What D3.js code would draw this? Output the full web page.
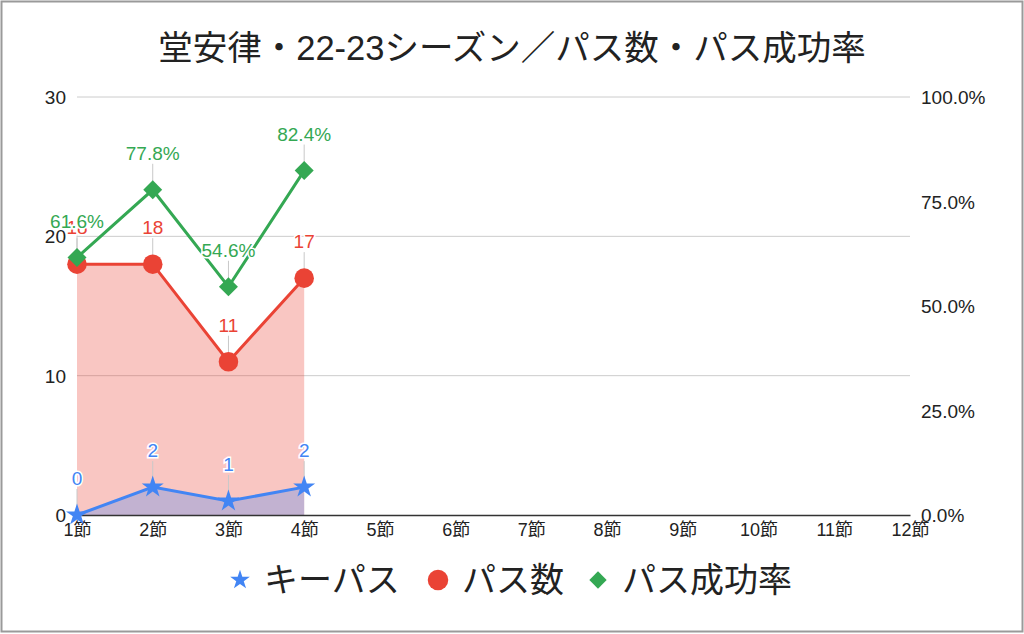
<!DOCTYPE html>
<html>
<head>
<meta charset="utf-8">
<script src="https://cdn.jsdelivr.net/npm/d3@7"></script>
<style>
 body { margin: 0; background: #fff; }
 text { font-family: "Liberation Sans", "Noto Sans CJK JP", sans-serif; }
</style>
</head>
<body>
<div id="chart"></div>
<script>
// data
var rounds = ["1節", "2節", "3節", "4節", "5節", "6節", "7節", "8節", "9節", "10節", "11節", "12節"];
var keyPass = [0, 2, 1, 2];
var passes = [18, 18, 11, 17];
var passRate = [0.616, 0.778, 0.546, 0.824];
var leftTicks = [0, 10, 20, 30];
var rightTicks = [0, 0.25, 0.5, 0.75, 1];
var seriesNames = ["キーパス", "パス数", "パス成功率"];

var blue = "#4285F4", red = "#EA4335", green = "#34A853";
var fontF = "\"Liberation Sans\", \"Noto Sans CJK JP\", sans-serif";

var w = 1024, h = 634;
var svg = d3.select("#chart").append("svg").attr("width", w).attr("height", h);

svg.append("rect").attr("x", 1.5).attr("y", 1.5).attr("width", w - 3).attr("height", h - 4)
 .attr("fill", "#fff").attr("stroke", "#9a9a9a").attr("stroke-width", 2);

var x = d3.scalePoint().domain(rounds).range([77, 910]);
var yL = d3.scaleLinear().domain([0, 30]).range([515, 97]);
var yR = d3.scaleLinear().domain([0, 1]).range([515, 97]);

// title
svg.append("text").attr("x", 512).attr("y", 60).attr("text-anchor", "middle")
 .attr("font-size", 34.5).attr("fill", "#222")
 .text("堂安律・22-23シーズン／パス数・パス成功率");

// gridlines
svg.selectAll(".grid").data(leftTicks.slice(1)).enter().append("line")
 .attr("x1", 77).attr("x2", 910)
 .attr("y1", function(d) { return yL(d); }).attr("y2", function(d) { return yL(d); })
 .attr("stroke", "#cccccc").attr("stroke-width", 1);

// left axis labels
svg.selectAll(".lt").data(leftTicks).enter().append("text")
 .attr("x", 66).attr("y", function(d) { return yL(d) + 7; })
 .attr("text-anchor", "end").attr("font-size", 19).attr("fill", "#222")
 .text(function(d) { return d; });

// right axis labels
svg.selectAll(".rt").data(rightTicks).enter().append("text")
 .attr("x", 921).attr("y", function(d) { return yR(d) + 7; })
 .attr("font-size", 19).attr("fill", "#222")
 .text(function(d) { return d3.format(".1%")(d); });

// areas
var idx = d3.range(passes.length);
var areaP = d3.area().x(function(i) { return x(rounds[i]); }).y0(yL(0)).y1(function(i) { return yL(passes[i]); });
var areaK = d3.area().x(function(i) { return x(rounds[i]); }).y0(yL(0)).y1(function(i) { return yL(keyPass[i]); });
svg.append("path").attr("d", areaP(idx)).attr("fill", red).attr("fill-opacity", 0.3);
svg.append("path").attr("d", areaK(idx)).attr("fill", blue).attr("fill-opacity", 0.3);

// x axis
var xAxis = svg.append("g").attr("transform", "translate(0," + yL(0) + ")")
 .call(d3.axisBottom(x).tickSize(0).tickPadding(8));
xAxis.select(".domain").attr("stroke", "#333").attr("stroke-width", 1.5);
xAxis.selectAll("text").attr("font-size", 18).attr("fill", "#222")
 .style("font-family", fontF);

// leader lines from labels to points
function leaders(vals, yScale) {
 svg.selectAll(null).data(idx).enter().append("line")
 .attr("x1", function(i) { return x(rounds[i]); }).attr("x2", function(i) { return x(rounds[i]); })
 .attr("y1", function(i) { return yScale(vals[i]) - 26; })
 .attr("y2", function(i) { return yScale(vals[i]); })
 .attr("stroke", "#c8c8c8").attr("stroke-width", 1);
}
leaders(keyPass, yL);
leaders(passes, yL);
leaders(passRate, yR);

// lines
var line = function(vals, yScale) {
 return d3.line().x(function(i) { return x(rounds[i]); }).y(function(i) { return yScale(vals[i]); })(idx);
};
svg.append("path").attr("d", line(keyPass, yL)).attr("fill", "none").attr("stroke", blue).attr("stroke-width", 3);
svg.append("path").attr("d", line(passes, yL)).attr("fill", "none").attr("stroke", red).attr("stroke-width", 3);
svg.append("path").attr("d", line(passRate, yR)).attr("fill", "none").attr("stroke", green).attr("stroke-width", 3);

// markers
var star = d3.symbol().type(d3.symbolStar).size(150);
var circle = d3.symbol().type(d3.symbolCircle).size(300);
var diamond = d3.symbol().type(d3.symbolSquare).size(180);
svg.selectAll(null).data(idx).enter().append("path").attr("d", star)
 .attr("transform", function(i) { return "translate(" + x(rounds[i]) + "," + yL(keyPass[i]) + ")"; })
 .attr("fill", blue);
svg.selectAll(null).data(idx).enter().append("path").attr("d", circle)
 .attr("transform", function(i) { return "translate(" + x(rounds[i]) + "," + yL(passes[i]) + ")"; })
 .attr("fill", red);
svg.selectAll(null).data(idx).enter().append("path").attr("d", diamond)
 .attr("transform", function(i) { return "translate(" + x(rounds[i]) + "," + yR(passRate[i]) + ") rotate(45)"; })
 .attr("fill", green);

// data labels with white halo
function labels(vals, yScale, color, fmt) {
 var g = svg.append("g");
 g.selectAll(null).data(idx).enter().append("text")
 .attr("x", function(i) { return x(rounds[i]); })
 .attr("y", function(i) { return yScale(vals[i]) - 30; })
 .attr("text-anchor", "middle").attr("font-size", 19)
 .attr("fill", color).attr("stroke", "#fff").attr("stroke-width", 3).attr("paint-order", "stroke")
 .text(function(i) { return fmt(vals[i]); });
}
labels(keyPass, yL, blue, function(d) { return d; });
labels(passes, yL, red, function(d) { return d; });
labels(passRate, yR, green, d3.format(".1%"));

// legend
var legend = [
 { name: seriesNames[0], color: blue, sym: d3.symbol().type(d3.symbolStar).size(120), rot: 0, x: 240 },
 { name: seriesNames[1], color: red, sym: d3.symbol().type(d3.symbolCircle).size(330), rot: 0, x: 438 },
 { name: seriesNames[2], color: green, sym: d3.symbol().type(d3.symbolSquare).size(150), rot: 45, x: 598 }
];
var lg = svg.selectAll(".lg").data(legend).enter().append("g")
 .attr("transform", function(d) { return "translate(" + d.x + ",580)"; });
lg.append("path").attr("d", function(d) { return d.sym(); })
 .attr("transform", function(d) { return "rotate(" + d.rot + ")"; })
 .attr("fill", function(d) { return d.color; });
lg.append("text").attr("x", 24).attr("y", 12).attr("font-size", 34).attr("fill", "#222")
 .text(function(d) { return d.name; });
</script>
</body>
</html>
